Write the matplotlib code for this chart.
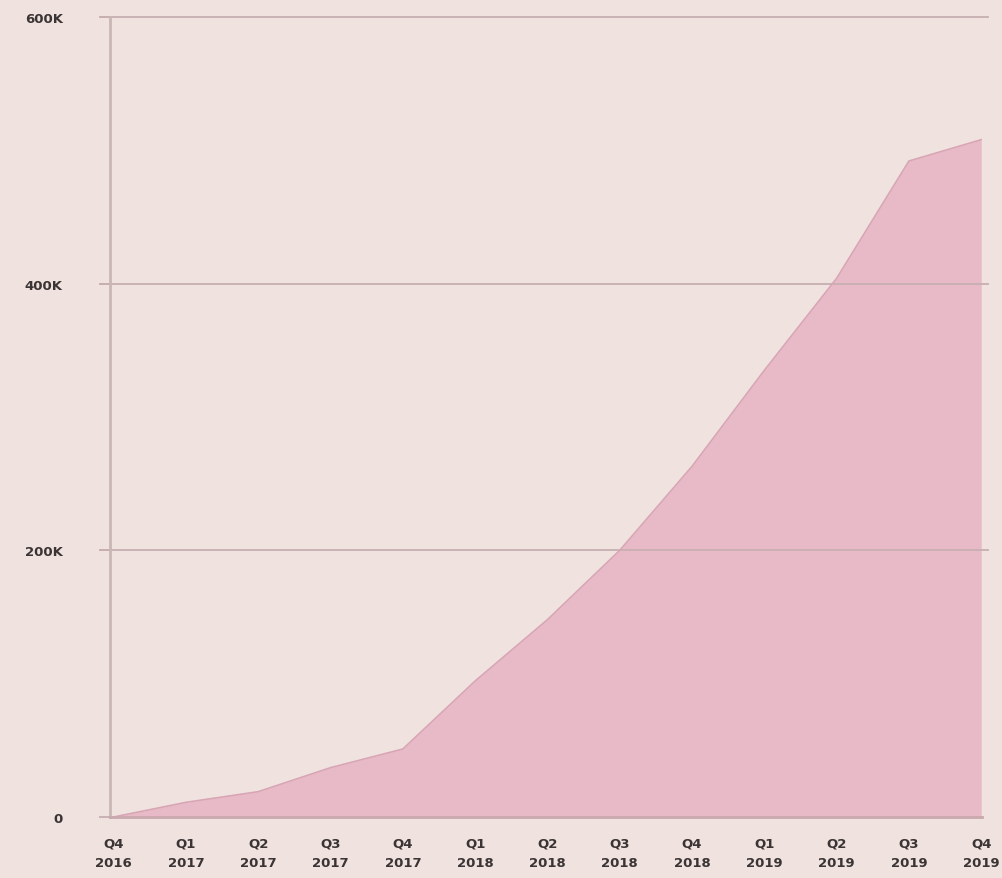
import matplotlib
matplotlib.use("Agg")
import matplotlib.pyplot as plt

quarters = ["Q4\n2016", "Q1\n2017", "Q2\n2017", "Q3\n2017", "Q4\n2017", "Q1\n2018", "Q2\n2018",
            "Q3\n2018", "Q4\n2018", "Q1\n2019", "Q2\n2019", "Q3\n2019", "Q4\n2019"]
values = [0, 11000, 19000, 37000, 51000, 102000, 148000, 200000, 263000, 335000, 404000, 492000, 508000]
yticks = [0, 200000, 400000, 600000]
ytick_labels = ["0", "200K", "400K", "600K"]

bg = "#f0e2df"
fill = "#e8bac8"
edge = "#d8a5b5"
grid = "#c7aeb1"

plt.rcParams["font.family"] = ["DejaVu Sans"]

fig = plt.figure(figsize=(10.03, 8.79), dpi=100, facecolor=bg)
ax = fig.add_axes([0.1097, 0.0694, 0.8693, 0.9101], facecolor=bg)

x = list(range(len(values)))
ax.fill_between(x, values, 0, color=fill, linewidth=0, zorder=2)
ax.plot(x, values, color=edge, linewidth=1.2, zorder=3)

ax.set_xlim(-0.05, len(values) - 1 + 0.01)
ax.set_ylim(0, 600000)
ax.set_yticks(yticks)
ax.set_yticklabels(ytick_labels)
ax.set_xticks(x)
ax.set_xticklabels(quarters)

for y in yticks[1:]:
    ax.axhline(y, color=grid, linewidth=1.3, zorder=2.5, xmin=-0.01, xmax=1.007, clip_on=False)

for s in ["top", "right"]:
    ax.spines[s].set_visible(False)
ax.spines["left"].set_color("#cbb6b6")
ax.spines["left"].set_linewidth(2.0)
ax.spines["bottom"].set_color("#c9a9ae")
ax.spines["bottom"].set_linewidth(2.0)
ax.spines["bottom"].set_zorder(4)

ax.tick_params(axis="y", length=8, width=1.3, color=grid, pad=26, labelsize=9.5, labelcolor="#3a3434")
ax.tick_params(axis="x", length=0, pad=14, labelsize=9.5, labelcolor="#3a3434")
for lbl in ax.get_yticklabels() + ax.get_xticklabels():
    lbl.set_fontweight("bold")
    lbl.set_linespacing(1.7)

fig.savefig("out.png", dpi=100, facecolor=bg)
